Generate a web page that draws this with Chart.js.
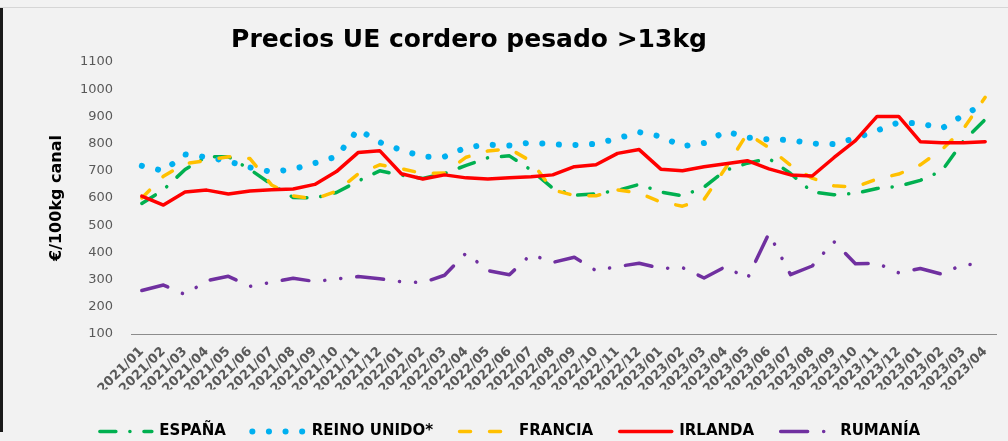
<!DOCTYPE html>
<html>
<head>
<meta charset="utf-8">
<script src="https://cdn.jsdelivr.net/npm/chart.js@4.4.1/dist/chart.umd.min.js"></script>
<style>
html,body{margin:0;padding:0;background:#f2f2f2;overflow:hidden;width:1008px;height:441px;}
#wrap{position:relative;width:1008px;height:441px;}
#topline{position:absolute;left:0;top:7px;width:1008px;height:1px;background:#d6d6d6;}
#leftbar{position:absolute;left:0;top:8px;width:3px;height:424px;background:#1a1a1a;}
canvas{position:absolute;left:0;top:0;}
</style>
</head>
<body>
<div id="wrap"><div id="topline"></div><div id="leftbar"></div><canvas id="c" width="1008" height="441"></canvas></div>
<script>
const chartTitle = 'Precios UE cordero pesado >13kg';
const yAxisTitle = '€/100kg canal';

const categories = [
  '2021/01','2021/02','2021/03','2021/04','2021/05','2021/06','2021/07','2021/08','2021/09','2021/10','2021/11','2021/12',
  '2022/01','2022/02','2022/03','2022/04','2022/05','2022/06','2022/07','2022/08','2022/09','2022/10','2022/11','2022/12',
  '2023/01','2023/02','2023/03','2023/04','2023/05','2023/06','2023/07','2023/08','2023/09','2023/10','2023/11','2023/12',
  '2023/01','2023/02','2023/03','2023/04'
];

const seriesNames = ['ESPAÑA', 'REINO UNIDO*', 'FRANCIA', 'IRLANDA', 'RUMANÍA'];

const espana = [580, 630, 705, 752, 752, 705, 650, 602, 600, 620, 662, 700,
                684, 672, 690, 720, 748, 755, 703, 636, 610, 615, 628, 650,
                622, 608, 640, 702, 728, 745, 690, 622, 612, 617, 635, 643,
                665, 700, 810, 889];

const reinoUnido = [718, 700, 760, 750, 735, 712, 696, 706, 728, 752, 852, 805,
                    776, 752, 752, 786, 796, 793, 804, 797, 795, 799, 819, 842,
                    826, 790, 802, 845, 822, 815, 813, 800, 798, 820, 848, 878,
                    874, 856, 905, 948];

const francia = [600, 680, 726, 738, 752, 745, 648, 608, 596, 625, 688, 722,
                 708, 690, 692, 750, 773, 781, 735, 630, 609, 608, 630, 618,
                 585, 570, 595, 711, 837, 785, 720, 673, 645, 640, 670, 688,
                 722, 778, 855, 970];

const irlanda = [607, 574, 622, 629, 615, 626, 630, 633, 650, 697, 767, 774,
                 689, 670, 685, 674, 670, 674, 678, 685, 715, 722, 764, 778,
                 706, 700, 715, 726, 737, 707, 685, 681, 748, 811, 900, 900,
                 807, 803, 803, 807];

const rumania = [260, 280, 245, 296, 312, 275, 290, 305, 293, 302, 311, 303,
                 292, 289, 316, 398, 333, 318, 393, 363, 382, 333, 348, 360,
                 341, 344, 306, 348, 303, 470, 318, 350, 440, 358, 360, 325,
                 341, 320, 357, 352];

const yTicksMin = 100, yTicksMax = 1100, yTicksStep = 100;

const titlePlugin = {
  id: 'titleText',
  afterDraw(chart) {
    const ctx = chart.ctx;
    ctx.save();
    ctx.font = 'bold 25px "DejaVu Sans"';
    ctx.fillStyle = '#000000';
    ctx.textAlign = 'center';
    ctx.textBaseline = 'alphabetic';
    ctx.fillText(chartTitle, 469, 47);
    ctx.restore();
  }
};

const legendShift = {
  id: 'legendShift',
  afterLayout(chart) {
    const l = chart.legend;
    if (!l) return;
    l.top += 8; l.bottom += 8;
    l.left += 12; l.right += 12;
  }
};

const legendOffsets = [0, 0, 0, 0, 0];

new Chart(document.getElementById('c'), {
  type: 'line',
  data: {
    labels: categories,
    datasets: [
      {label: seriesNames[0], data: espana, borderColor: '#00b050', borderWidth: 3.5,
       borderDash: [16, 14, 0.1, 14], borderCapStyle: 'round', borderJoinStyle: 'round', order: 5},
      {label: seriesNames[1], data: reinoUnido, borderColor: '#00b0f0', borderWidth: 6,
       borderDash: [0.1, 16.5], borderCapStyle: 'round', borderJoinStyle: 'round', order: 4},
      {label: seriesNames[2], data: francia, borderColor: '#ffc000', borderWidth: 3.5,
       borderDash: [11, 19], borderCapStyle: 'round', borderJoinStyle: 'round', order: 3},
      {label: seriesNames[3], data: irlanda, borderColor: '#ff0000', borderWidth: 3.5,
       borderCapStyle: 'round', borderJoinStyle: 'round', order: 2},
      {label: seriesNames[4], data: rumania, borderColor: '#7030a0', borderWidth: 3.5,
       borderDash: [27, 16, 0.1, 16, 0.1, 16], borderCapStyle: 'round', borderJoinStyle: 'round', order: 1}
    ]
  },
  options: {
    responsive: false,
    animation: false,
    elements: {point: {radius: 0, hoverRadius: 0}, line: {tension: 0, fill: false}},
    layout: {padding: {left: 0, right: 12, top: 62, bottom: 0}},
    plugins: {
      title: {display: false},
      tooltip: {enabled: false},
      legend: {
        display: true,
        position: 'bottom',
        labels: {
          usePointStyle: true,
          pointStyleWidth: 52,
          padding: 26.5,
          color: '#000000',
          font: {family: 'DejaVu Sans', size: 15, weight: 'bold'},
          generateLabels(chart) {
            return chart.data.datasets.map((ds, i) => ({
              text: ds.label,
              fillStyle: ds.borderColor,
              strokeStyle: ds.borderColor,
              lineWidth: ds.borderWidth,
              lineDash: ds.borderDash || [],
              lineDashOffset: legendOffsets[i],
              lineCap: ds.borderCapStyle,
              pointStyle: 'line',
              fontColor: '#000000',
              hidden: false,
              datasetIndex: i
            }));
          }
        }
      }
    },
    scales: {
      x: {
        type: 'category',
        offset: true,
        grid: {display: false, drawTicks: false},
        border: {display: true, color: '#8c8c8c', width: 1},
        ticks: {
          autoSkip: false, maxRotation: 45, minRotation: 45, padding: 10,
          color: '#595959', font: {family: 'DejaVu Sans', size: 13, weight: 'bold'}
        },
        afterFit(s) { s.height = 55.5; }
      },
      y: {
        min: yTicksMin, max: yTicksMax,
        grid: {display: false, drawTicks: false},
        border: {display: false},
        ticks: {stepSize: yTicksStep, padding: 18, color: '#595959',
                font: {family: 'DejaVu Sans', size: 13},
                callback: (v) => String(v)},
        title: {display: true, text: yAxisTitle, color: '#000000',
                font: {family: 'DejaVu Sans', size: 16, weight: 'bold'},
                padding: {top: 47, bottom: 0}},
        afterFit(s) { s.width = 131; }
      }
    }
  },
  plugins: [titlePlugin, legendShift]
});
</script>
</body>
</html>
